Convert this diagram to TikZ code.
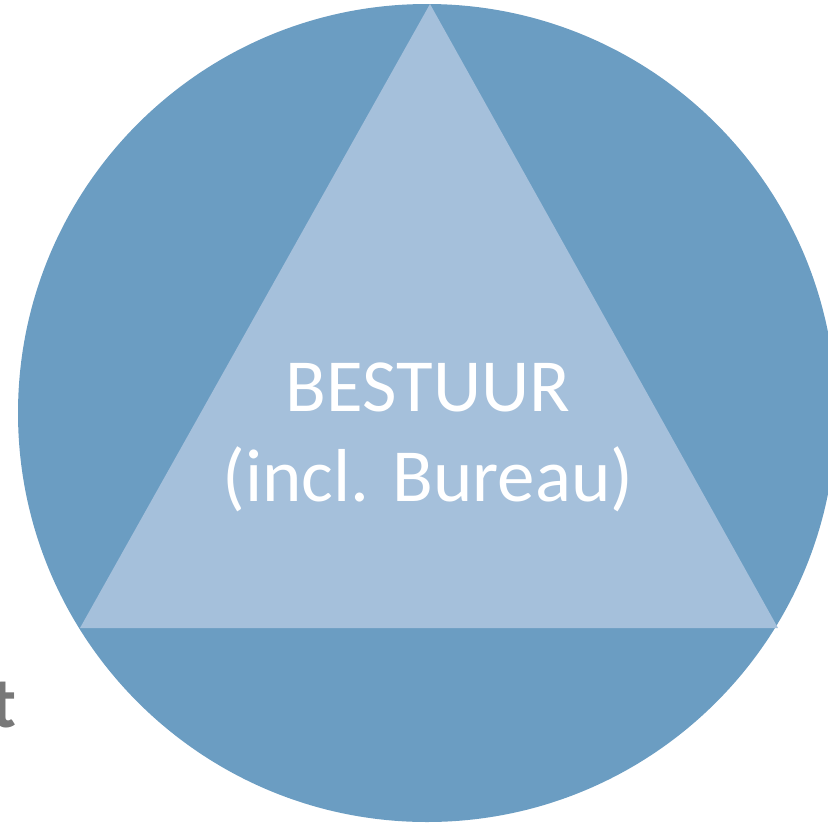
\documentclass[tikz,border=0pt]{standalone}
\usepackage{fontspec}
\setmainfont{Carlito}
\definecolor{ringblue}{RGB}{107,157,194}
\definecolor{triblue}{RGB}{165,192,219}
\definecolor{labelgray}{RGB}{120,120,120}
\begin{document}
\begin{tikzpicture}[x=1pt,y=-1pt,
  maintext/.style={text=white,font=\fontsize{75}{90}\selectfont,align=center,inner sep=0pt},
  sidetext/.style={text=labelgray,font=\fontsize{72}{86}\selectfont\bfseries,inner sep=0pt}]
\useasboundingbox (0,0) rectangle (828,823);
\clip (0,0) rectangle (828,823);
\fill[ringblue] (427,413) circle[radius=409];
\coordinate (apex) at (430,4);
\coordinate (bl) at (80,628);
\coordinate (br) at (778,628);
\fill[triblue] (apex) -- (bl) -- (br) -- cycle;
\node[maintext] (bestuur) at (428,437) {BESTUUR\\(incl. Bureau)};
\node[sidetext,anchor=base east] (t) at (17,727) {t};
\end{tikzpicture}
\end{document}
